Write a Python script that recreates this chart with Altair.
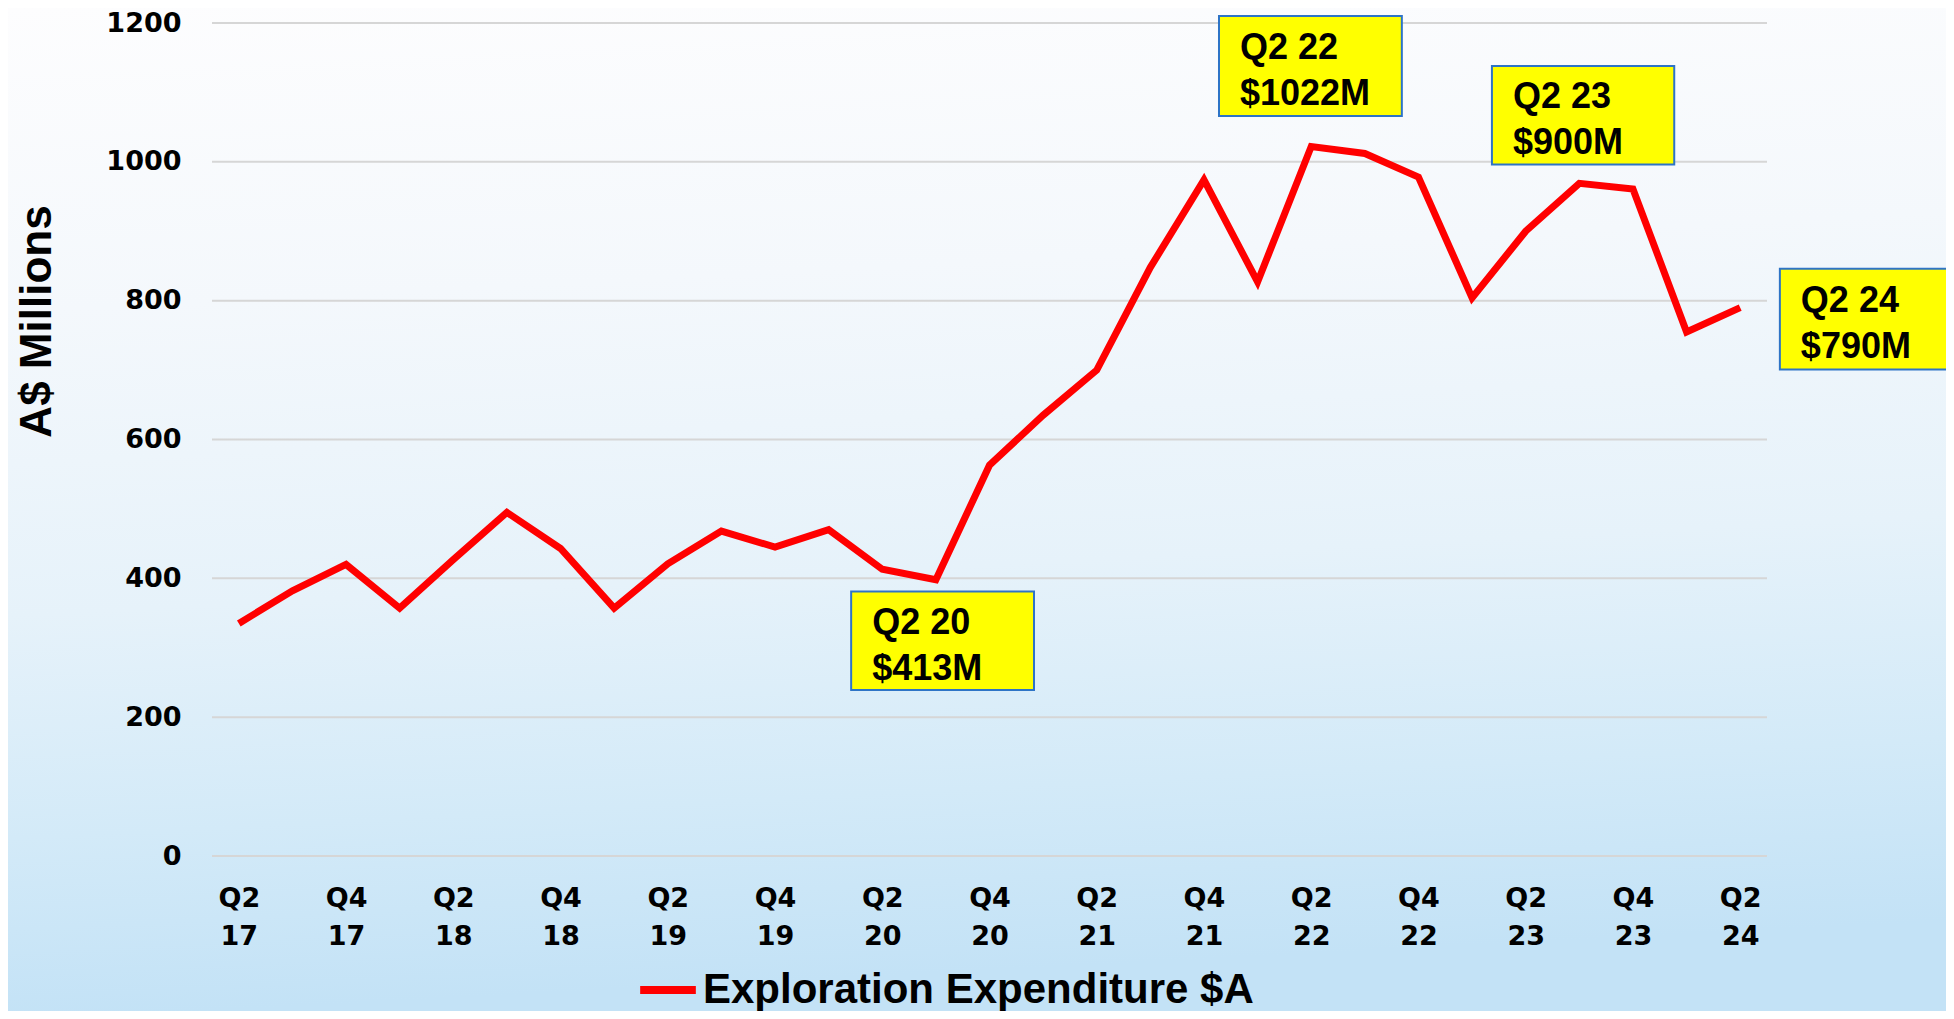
import altair as alt
import pandas as pd

quarters = [
    "Q2 17", "Q3 17", "Q4 17", "Q1 18", "Q2 18", "Q3 18", "Q4 18", "Q1 19",
    "Q2 19", "Q3 19", "Q4 19", "Q1 20", "Q2 20", "Q3 20", "Q4 20", "Q1 21",
    "Q2 21", "Q3 21", "Q4 21", "Q1 22", "Q2 22", "Q3 22", "Q4 22", "Q1 23",
    "Q2 23", "Q3 23", "Q4 23", "Q1 24", "Q2 24",
]
expenditure = [
    335, 382, 420, 357, 427, 495, 443, 357,
    421, 468, 445, 470, 413, 398, 563, 635,
    700, 848, 974, 827, 1022, 1012, 978, 804,
    900, 969, 961, 755, 790,
]
series_name = "Exploration Expenditure $A"

y_ticks = [0, 200, 400, 600, 800, 1000, 1200]

ann_text_line1 = ["Q2 20", "Q2 22", "Q2 23", "Q2 24"]
ann_text_line2 = ["$413M", "$1022M", "$900M", "$790M"]
# annotation box extents (x in quarter-index units, y in A$ millions)
ann_x0 = [11.42, 18.28, 23.37, 28.74]
ann_x1 = [14.83, 21.69, 26.77, 32.5]
ann_y0 = [239, 1066, 996, 701]
ann_y1 = [381, 1210, 1138, 846]

FONT = "Liberation Sans"
HEAVY = "DejaVu Sans"
W, H = 1938, 1003
PL, PT, PW, PH = 204, 15, 1555, 833

df = pd.DataFrame({
    "idx": list(range(len(quarters))),
    "quarter": quarters,
    "value": expenditure,
    "series": [series_name] * len(quarters),
})

ann = pd.DataFrame({
    "x0": ann_x0, "x1": ann_x1, "y0": ann_y0, "y1": ann_y1,
    "yc": [(a + b) / 2 for a, b in zip(ann_y0, ann_y1)],
    "text": [[a, b] for a, b in zip(ann_text_line1, ann_text_line2)],
})

grid_df = pd.DataFrame({"tick": y_ticks})

label_arr = "[" + ",".join("'" + q + "'" for q in quarters) + "]"
x_label_expr = f"split({label_arr}[datum.value], ' ')"

xscale = alt.Scale(domain=[-0.5, len(quarters) - 0.5], nice=False, zero=False)
yscale = alt.Scale(domain=[0, 1200], nice=False)

bg = alt.Chart(alt.Data(values=[{}])).mark_rect(
    color=alt.LinearGradient(
        gradient="linear",
        x1=0, x2=0.1, y1=0, y2=1,
        stops=[
            alt.GradientStop(color="#fdfdfe", offset=0),
            alt.GradientStop(color="#f4f8fc", offset=0.3),
            alt.GradientStop(color="#e6f2fa", offset=0.6),
            alt.GradientStop(color="#d3eaf8", offset=0.82),
            alt.GradientStop(color="#c3e2f6", offset=1),
        ],
    )
).encode(
    x=alt.value(-PL), x2=alt.value(W - PL),
    y=alt.value(-PT), y2=alt.value(H - PT),
)

grid = alt.Chart(grid_df).mark_rule(color="#d6d6d6", strokeWidth=2).encode(
    y=alt.Y("tick:Q", scale=yscale),
    x=alt.value(0), x2=alt.value(PW),
)

line = alt.Chart(df).mark_line(strokeWidth=7, strokeJoin="miter").encode(
    x=alt.X(
        "idx:Q", scale=xscale, title=None,
        axis=alt.Axis(
            values=list(range(0, len(quarters), 2)),
            labelExpr=x_label_expr, zindex=2,
            grid=False, domain=False, ticks=False,
            labelFont=HEAVY, labelFontWeight="bold", labelFontSize=27,
            labelColor="#000000", labelBaseline="top", labelPadding=29,
            labelLineHeight=38, labelFlush=False, labelOverlap=False,
        ),
    ),
    y=alt.Y(
        "value:Q", scale=yscale, title="A$ Millions",
        axis=alt.Axis(
            values=y_ticks, grid=False, zindex=2, format="d",
            domain=False, ticks=False,
            labelFont=HEAVY, labelFontWeight="bold", labelFontSize=27,
            labelColor="#000000", labelPadding=31,
            titleFont=FONT, titleFontWeight="bold", titleFontSize=44,
            titleColor="#000000", titleX=-175, titleY=298,
            titleAngle=-90, titleBaseline="middle", titleAlign="center",
        ),
    ),
    color=alt.Color(
        "series:N",
        scale=alt.Scale(domain=[series_name], range=["#ff0000"]),
        legend=alt.Legend(
            orient="none", legendX=424, legendY=935, title=None,
            symbolType="stroke", symbolSize=3100, symbolStrokeWidth=8,
            labelFont=FONT, labelFontWeight="bold", labelFontSize=42,
            labelColor="#000000", labelOffset=3, labelLimit=1000,
        ),
    ),
)

boxes = alt.Chart(ann).mark_rect(
    fill="#ffff00", stroke="#2e74c6", strokeWidth=2
).encode(
    x=alt.X("x0:Q", scale=xscale), x2="x1:Q",
    y=alt.Y("y0:Q", scale=yscale), y2="y1:Q",
)

texts = alt.Chart(ann).mark_text(
    align="left", baseline="middle", dx=21, dy=-18, lineHeight=46,
    font=FONT, fontWeight="bold", fontSize=36, color="#000000",
).encode(
    x=alt.X("x0:Q", scale=xscale),
    y=alt.Y("yc:Q", scale=yscale),
    text="text",
)

chart = alt.layer(bg, grid, line, boxes, texts).properties(
    width=PW, height=PH,
    autosize=alt.AutoSizeParams(type="none"),
    padding={"left": PL, "top": PT, "right": W - PL - PW, "bottom": H - PT - PH},
).configure_view(stroke=None).configure(background="#ffffff")

chart.save("out.html", embed_options={"renderer": "svg", "actions": False})
